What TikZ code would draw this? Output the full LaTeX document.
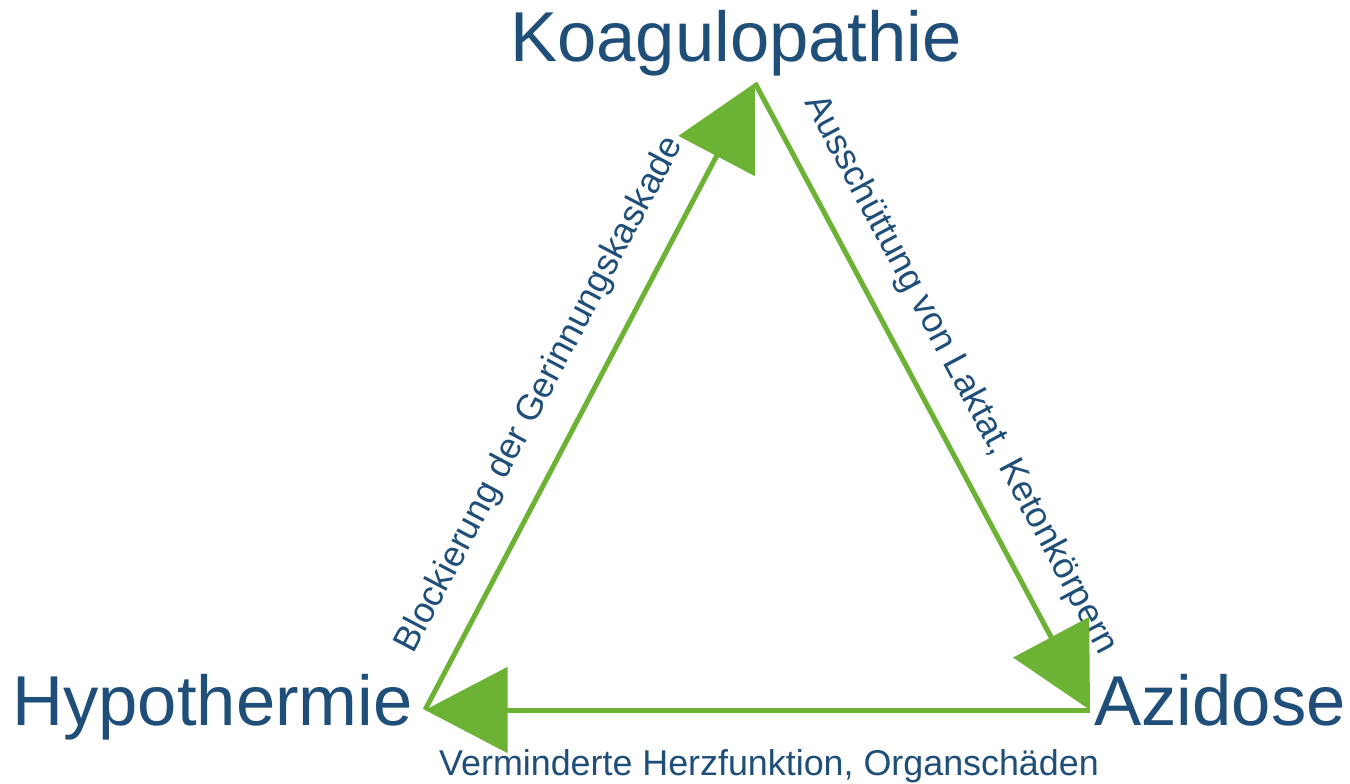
\documentclass[tikz,border=0pt]{standalone}
\usepackage{fontspec}
\setmainfont{Liberation Sans}
\usepackage{xcolor}
\usetikzlibrary{arrows.meta}
\definecolor{darkblue}{RGB}{31,78,121}
\definecolor{lightgreen}{RGB}{108,178,52}

\begin{document}
\begin{tikzpicture}[
  bigtext/.style={text=darkblue,font=\fontsize{40.2}{44}\selectfont,anchor=base,inner sep=0pt},
  smalltext/.style={text=darkblue,font=\fontsize{20.4}{23}\selectfont,inner sep=0pt},
  link/.style={draw=lightgreen,line width=1mm,-{Triangle[length=16.5mm,width=17mm]}}
]
\useasboundingbox (0,0) rectangle (27,15.66);
% corners of the triangle
\coordinate (koag) at (15.10,14.00);
\coordinate (hypo) at (8.50,1.46);
\coordinate (azid) at (21.80,1.46);
% names
\node[bigtext] (koaglabel) at (14.72,14.42) {Koagulopathie};
\node[bigtext] (hypolabel) at (4.25,1.16) {Hypothermie};
\node[bigtext] (azidlabel) at (24.40,1.16) {Azidose};
% effects
\node[smalltext,rotate=62.2] (block) at (10.80,7.76) {Blockierung der Gerinnungskaskade};
\node[smalltext,rotate=-61.9] (ausschuett) at (19.20,8.16) {Ausschüttung von Laktat, Ketonkörpern};
\node[smalltext,anchor=base] (herz) at (15.38,0.16) {Verminderte Herzfunktion, Organschäden};
% arrows
\draw[link] (hypo) -- (koag);
\draw[link] (koag) -- (azid);
\draw[link] (azid) -- (hypo);
\end{tikzpicture}
\end{document}
